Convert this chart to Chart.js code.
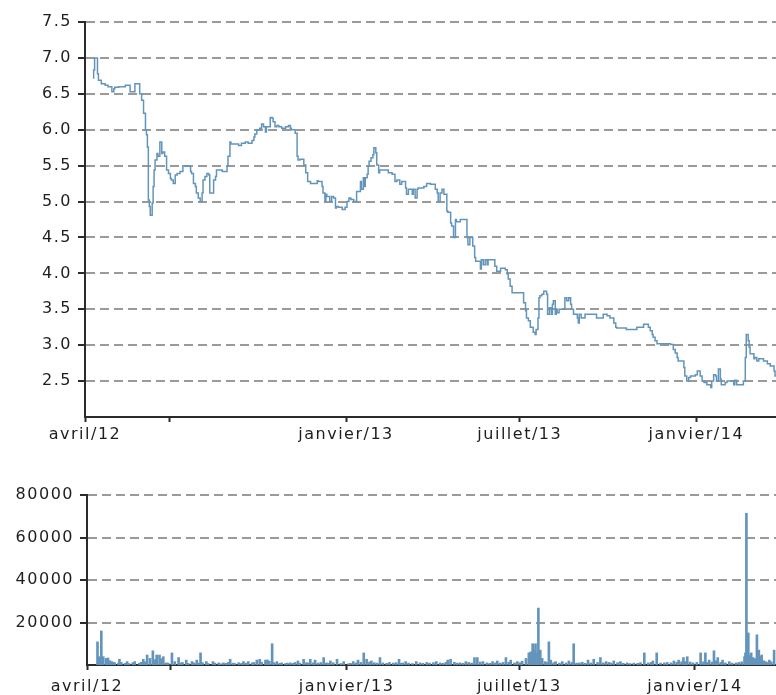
<!DOCTYPE html>
<html lang="fr">
<head>
    <meta charset="UTF-8">
    <title>Cours et volume</title>
    <script src="https://cdn.jsdelivr.net/npm/chart.js"></script>
    <style>
        html, body {
            margin: 0;
            padding: 0;
            background: #fff;
        }
        .wrap {
            position: relative;
            width: 776px;
            height: 695px;
            overflow: hidden;
        }
        #priceChart {
            position: absolute;
            left: 0;
            top: 0;
        }
        #volChart {
            position: absolute;
            left: 0;
            top: 470px;
        }
    </style>
</head>
<body>
    <div class="wrap">
        <canvas id="priceChart" width="776" height="445"></canvas>
        <canvas id="volChart" width="776" height="225"></canvas>
    </div>

    <script>
        // Cours (clôture)
        const priceDates = [
            '2012-04-13', '2012-04-14', '2012-04-17', '2012-04-18', '2012-04-21', '2012-04-25', '2012-04-28',
            '2012-05-02', '2012-05-04', '2012-05-05', '2012-05-09', '2012-05-16', '2012-05-21', '2012-05-26', '2012-05-28', '2012-05-31',
            '2012-06-02', '2012-06-04', '2012-06-06', '2012-06-07', '2012-06-08', '2012-06-09', '2012-06-10', '2012-06-11', '2012-06-13',
            '2012-06-14', '2012-06-15', '2012-06-16', '2012-06-18', '2012-06-19', '2012-06-21', '2012-06-23', '2012-06-24', '2012-06-26',
            '2012-06-28', '2012-06-30',
            '2012-07-02', '2012-07-03', '2012-07-05', '2012-07-07', '2012-07-09', '2012-07-12', '2012-07-15', '2012-07-19', '2012-07-23',
            '2012-07-24', '2012-07-26', '2012-07-28', '2012-07-29', '2012-07-31',
            '2012-08-02', '2012-08-04', '2012-08-05', '2012-08-07', '2012-08-09', '2012-08-11', '2012-08-12', '2012-08-14', '2012-08-16',
            '2012-08-18', '2012-08-19', '2012-08-21', '2012-08-25', '2012-08-30', '2012-08-31',
            '2012-09-02', '2012-09-03', '2012-09-06', '2012-09-11', '2012-09-14', '2012-09-18', '2012-09-21', '2012-09-25', '2012-09-27',
            '2012-09-28', '2012-09-30',
            '2012-10-03', '2012-10-05', '2012-10-07', '2012-10-09', '2012-10-10', '2012-10-14', '2012-10-16', '2012-10-17', '2012-10-19',
            '2012-10-21', '2012-10-23', '2012-10-26', '2012-10-30',
            '2012-11-02', '2012-11-04', '2012-11-05', '2012-11-09', '2012-11-11', '2012-11-12', '2012-11-14', '2012-11-18', '2012-11-20',
            '2012-11-22', '2012-11-25', '2012-11-26',
            '2012-12-02', '2012-12-03', '2012-12-07', '2012-12-08', '2012-12-10', '2012-12-11', '2012-12-12', '2012-12-15', '2012-12-17',
            '2012-12-19', '2012-12-21', '2012-12-22', '2012-12-24', '2012-12-28', '2012-12-31',
            '2013-01-02', '2013-01-04', '2013-01-06', '2013-01-09', '2013-01-12', '2013-01-13', '2013-01-16', '2013-01-17', '2013-01-19',
            '2013-01-20', '2013-01-21', '2013-01-23', '2013-01-24', '2013-01-25', '2013-01-27', '2013-01-29', '2013-01-30',
            '2013-02-01', '2013-02-02', '2013-02-04', '2013-02-05', '2013-02-06', '2013-02-14', '2013-02-18', '2013-02-21', '2013-02-23',
            '2013-02-26', '2013-02-28',
            '2013-03-04', '2013-03-05', '2013-03-07', '2013-03-11', '2013-03-12', '2013-03-14', '2013-03-16', '2013-03-17', '2013-03-23',
            '2013-03-26', '2013-03-30',
            '2013-04-04', '2013-04-06', '2013-04-07', '2013-04-09', '2013-04-11', '2013-04-13', '2013-04-16', '2013-04-17', '2013-04-20',
            '2013-04-21', '2013-04-23', '2013-04-25', '2013-04-26', '2013-04-30',
            '2013-05-03', '2013-05-07', '2013-05-08', '2013-05-10', '2013-05-13', '2013-05-15', '2013-05-16', '2013-05-21', '2013-05-22',
            '2013-05-24', '2013-05-26', '2013-05-28', '2013-05-29',
            '2013-06-02', '2013-06-05', '2013-06-07', '2013-06-11', '2013-06-16', '2013-06-18', '2013-06-19', '2013-06-21', '2013-06-23',
            '2013-06-24',
            '2013-07-05', '2013-07-07', '2013-07-08', '2013-07-10', '2013-07-12', '2013-07-15', '2013-07-17', '2013-07-18', '2013-07-20',
            '2013-07-21', '2013-07-22', '2013-07-24', '2013-07-26', '2013-07-29', '2013-07-30',
            '2013-08-01', '2013-08-03', '2013-08-04', '2013-08-05', '2013-08-07', '2013-08-08', '2013-08-09', '2013-08-11', '2013-08-14',
            '2013-08-17', '2013-08-19', '2013-08-21', '2013-08-23', '2013-08-24', '2013-08-26', '2013-08-30', '2013-08-31',
            '2013-09-01', '2013-09-03', '2013-09-07', '2013-09-09', '2013-09-19', '2013-09-26', '2013-09-30',
            '2013-10-03', '2013-10-07', '2013-10-09', '2013-10-10', '2013-10-20', '2013-10-26', '2013-10-31',
            '2013-11-07', '2013-11-09', '2013-11-12', '2013-11-14', '2013-11-16', '2013-11-17', '2013-11-19', '2013-11-21', '2013-11-22',
            '2013-12-05', '2013-12-08', '2013-12-10', '2013-12-12', '2013-12-13', '2013-12-19', '2013-12-20', '2013-12-22', '2013-12-24',
            '2013-12-26', '2013-12-31',
            '2014-01-02', '2014-01-05', '2014-01-07', '2014-01-09', '2014-01-12', '2014-01-16', '2014-01-17', '2014-01-19', '2014-01-21',
            '2014-01-22', '2014-01-24', '2014-01-26', '2014-01-27', '2014-01-31',
            '2014-02-02', '2014-02-09', '2014-02-10', '2014-02-12', '2014-02-16', '2014-02-19', '2014-02-21', '2014-02-22', '2014-02-24',
            '2014-02-25', '2014-02-26',
            '2014-03-02', '2014-03-03', '2014-03-05', '2014-03-07', '2014-03-12', '2014-03-16', '2014-03-19', '2014-03-23', '2014-03-24',
            '2014-03-25'
        ];
        const priceValues = [
            6.71, 6.83, 7.00, 6.78, 6.69, 6.64, 6.62,
            6.60, 6.53, 6.57, 6.59, 6.60, 6.62, 6.53, 6.64, 6.64,
            6.50, 6.41, 6.23, 6.00, 5.93, 5.76, 5.02, 4.93, 4.81,
            4.98, 5.21, 5.44, 5.58, 5.67, 5.63, 5.83, 5.67, 5.69,
            5.63, 5.44,
            5.39, 5.32, 5.30, 5.25, 5.37, 5.39, 5.42, 5.50, 5.49,
            5.42, 5.39, 5.25, 5.21, 5.12,
            5.05, 5.00, 5.12, 5.30, 5.35, 5.39, 5.37, 5.12, 5.12,
            5.30, 5.35, 5.44, 5.44, 5.42, 5.49,
            5.63, 5.83, 5.80, 5.80, 5.78, 5.81, 5.83, 5.81, 5.85,
            5.90, 5.94,
            6.00, 6.02, 6.08, 6.04, 5.97, 6.04, 6.17, 6.16, 6.11,
            6.04, 6.06, 6.04, 6.02,
            6.04, 6.06, 6.02, 6.00, 5.95, 5.63, 5.58, 5.59, 5.51,
            5.40, 5.28, 5.25,
            5.25, 5.29, 5.28, 5.21, 5.12, 5.00, 5.10, 5.07, 5.00,
            5.07, 5.05, 4.91, 4.93, 4.92, 4.89,
            4.92, 5.00, 5.05, 5.03, 5.00, 5.14, 5.14, 5.28, 5.17,
            5.33, 5.21, 5.33, 5.38, 5.49, 5.56, 5.61, 5.65,
            5.75, 5.68, 5.51, 5.40, 5.44, 5.44, 5.40, 5.38, 5.28,
            5.30, 5.24,
            5.28, 5.19, 5.10, 5.17, 5.10, 5.17, 5.05, 5.17, 5.19,
            5.21, 5.25,
            5.24, 5.17, 5.12, 5.00, 5.12, 5.17, 5.10, 4.87, 4.85,
            4.70, 4.66, 4.50, 4.75, 4.72,
            4.75, 4.75, 4.50, 4.40, 4.50, 4.38, 4.22, 4.17, 4.06,
            4.19, 4.12, 4.19, 4.12,
            4.19, 4.19, 4.10, 4.03, 4.07, 4.05, 3.99, 3.92, 3.82,
            3.73,
            3.73, 3.59, 3.48, 3.38, 3.34, 3.25, 3.18, 3.15, 3.22,
            3.38, 3.66, 3.69, 3.71, 3.75, 3.71,
            3.43, 3.52, 3.43, 3.57, 3.62, 3.43, 3.50, 3.45, 3.50,
            3.50, 3.66, 3.62, 3.66, 3.57, 3.50, 3.43, 3.38,
            3.31, 3.43, 3.38, 3.43, 3.43, 3.38, 3.43,
            3.41, 3.38, 3.31, 3.25, 3.24, 3.22, 3.22,
            3.25, 3.29, 3.29, 3.25, 3.20, 3.15, 3.11, 3.06, 3.02,
            3.02, 3.01, 2.94, 2.89, 2.83, 2.78, 2.69, 2.57, 2.50,
            2.55, 2.57,
            2.59, 2.64, 2.57, 2.50, 2.48, 2.45, 2.41, 2.50, 2.59,
            2.57, 2.50, 2.67, 2.53, 2.45,
            2.48, 2.50, 2.45, 2.51, 2.45, 2.45, 2.50, 2.83, 3.15,
            3.06, 2.97,
            2.88, 2.81, 2.83, 2.78, 2.81, 2.78, 2.74, 2.71, 2.64,
            2.57
        ];

        // Volume échangé
        const volumeDates = [
            '2012-04-15', '2012-04-17', '2012-04-19', '2012-04-21', '2012-04-24', '2012-04-26', '2012-04-28', '2012-04-30',
            '2012-05-02', '2012-05-03', '2012-05-07', '2012-05-08', '2012-05-10', '2012-05-14', '2012-05-16', '2012-05-18',
            '2012-05-22', '2012-05-24', '2012-05-29', '2012-05-31',
            '2012-06-02', '2012-06-04', '2012-06-06', '2012-06-09', '2012-06-12', '2012-06-14', '2012-06-16', '2012-06-19',
            '2012-06-21', '2012-06-23', '2012-06-26', '2012-06-28',
            '2012-07-02', '2012-07-05', '2012-07-09', '2012-07-11', '2012-07-13', '2012-07-17', '2012-07-19', '2012-07-23',
            '2012-07-25', '2012-07-28', '2012-07-30',
            '2012-08-01', '2012-08-03', '2012-08-07', '2012-08-09', '2012-08-14', '2012-08-16', '2012-08-20', '2012-08-22',
            '2012-08-25', '2012-08-28', '2012-08-30',
            '2012-09-01', '2012-09-04', '2012-09-06', '2012-09-10', '2012-09-13', '2012-09-15', '2012-09-18', '2012-09-20',
            '2012-09-24', '2012-09-26', '2012-09-29',
            '2012-10-02', '2012-10-04', '2012-10-08', '2012-10-10', '2012-10-12', '2012-10-15', '2012-10-17', '2012-10-20',
            '2012-10-23', '2012-10-25', '2012-10-29', '2012-10-31',
            '2012-11-03', '2012-11-06', '2012-11-08', '2012-11-11', '2012-11-13', '2012-11-17', '2012-11-20', '2012-11-22',
            '2012-11-24', '2012-11-27', '2012-11-29',
            '2012-12-02', '2012-12-05', '2012-12-08', '2012-12-11', '2012-12-13', '2012-12-15', '2012-12-18', '2012-12-22',
            '2012-12-26', '2012-12-29',
            '2013-01-03', '2013-01-05', '2013-01-08', '2013-01-11', '2013-01-13', '2013-01-16', '2013-01-19', '2013-01-22',
            '2013-01-25', '2013-01-27', '2013-01-30',
            '2013-02-02', '2013-02-05', '2013-02-08', '2013-02-12', '2013-02-15', '2013-02-19', '2013-02-22', '2013-02-25',
            '2013-02-27',
            '2013-03-01', '2013-03-04', '2013-03-07', '2013-03-11', '2013-03-15', '2013-03-19', '2013-03-22', '2013-03-26',
            '2013-03-29',
            '2013-04-02', '2013-04-05', '2013-04-09', '2013-04-12', '2013-04-15', '2013-04-17', '2013-04-20', '2013-04-24',
            '2013-04-27', '2013-04-30',
            '2013-05-03', '2013-05-06', '2013-05-09', '2013-05-12', '2013-05-15', '2013-05-18', '2013-05-21', '2013-05-24',
            '2013-05-28', '2013-05-31',
            '2013-06-03', '2013-06-06', '2013-06-08', '2013-06-11', '2013-06-14', '2013-06-17', '2013-06-20', '2013-06-22',
            '2013-06-26', '2013-06-29',
            '2013-07-02', '2013-07-04', '2013-07-08', '2013-07-11', '2013-07-13', '2013-07-15', '2013-07-17', '2013-07-18',
            '2013-07-20', '2013-07-21', '2013-07-23', '2013-07-25', '2013-07-28', '2013-07-30',
            '2013-08-01', '2013-08-03', '2013-08-06', '2013-08-08', '2013-08-12', '2013-08-15', '2013-08-19', '2013-08-22',
            '2013-08-25', '2013-08-27', '2013-08-30',
            '2013-09-02', '2013-09-05', '2013-09-08', '2013-09-11', '2013-09-14', '2013-09-17', '2013-09-21', '2013-09-24',
            '2013-09-27', '2013-09-30',
            '2013-10-03', '2013-10-05', '2013-10-08', '2013-10-12', '2013-10-15', '2013-10-18', '2013-10-22', '2013-10-25',
            '2013-10-29',
            '2013-11-02', '2013-11-05', '2013-11-09', '2013-11-13', '2013-11-16', '2013-11-18', '2013-11-22', '2013-11-26',
            '2013-11-30',
            '2013-12-03', '2013-12-07', '2013-12-10', '2013-12-13', '2013-12-15', '2013-12-18', '2013-12-20', '2013-12-22',
            '2013-12-24', '2013-12-27', '2013-12-30',
            '2014-01-03', '2014-01-07', '2014-01-10', '2014-01-12', '2014-01-14', '2014-01-16', '2014-01-19', '2014-01-21',
            '2014-01-23', '2014-01-25', '2014-01-28', '2014-01-30',
            '2014-02-02', '2014-02-06', '2014-02-09', '2014-02-13', '2014-02-16', '2014-02-19', '2014-02-22', '2014-02-23',
            '2014-02-24', '2014-02-25', '2014-02-26', '2014-02-28',
            '2014-03-01', '2014-03-03', '2014-03-05', '2014-03-07', '2014-03-09', '2014-03-10', '2014-03-12', '2014-03-14',
            '2014-03-16', '2014-03-18', '2014-03-20', '2014-03-22', '2014-03-25'
        ];
        const volumeValues = [
            10900, 3900, 16000, 3900, 3100, 3300, 2000, 1600,
            1200, 1000, 900, 2700, 1200, 800, 1600, 700,
            1100, 1600, 900, 1300,
            2700, 1500, 4700, 3100, 6700, 2500, 4700, 4700,
            3000, 3900, 1000, 900,
            5700, 1600, 3500, 900, 1200, 2300, 800, 1600,
            1000, 2300, 900,
            5700, 1100, 1600, 700, 1600, 900, 1000, 600,
            1000, 800, 1200,
            2700, 900, 700, 1100, 800, 1600, 900, 1600,
            1000, 1200, 2300,
            2700, 1300, 2300, 2400, 1800, 10000, 1100, 1600,
            800, 1000, 700, 900,
            1000, 800, 1200, 1900, 900, 2700, 1100, 900,
            2700, 1000, 2300,
            900, 1200, 3500, 1000, 800, 1900, 1100, 2700,
            700, 1600,
            600, 800, 1600, 1000, 2300, 1200, 5700, 2700,
            1400, 1900, 1100,
            900, 3500, 1000, 800, 1200, 900, 1100, 2700,
            800,
            1000, 1600, 900, 700, 1600, 1000, 800, 1200,
            900,
            1100, 1600, 1000, 800, 1200, 2300, 2700, 1300,
            900, 1000,
            800, 1600, 1200, 900, 3500, 3500, 1400, 1600,
            1000, 800,
            1600, 1000, 1900, 900, 1200, 3500, 1300, 2300,
            1000, 1600,
            1100, 1800, 3100, 5700, 6200, 10000, 7000, 10000,
            5700, 26800, 7000, 3100, 1600, 1200,
            10900, 2300, 1100, 1600, 900, 1600, 1000, 1900,
            1200, 10000, 900,
            1000, 1300, 800, 2300, 1000, 2700, 1200, 3500,
            1000, 1600,
            1200, 900, 1900, 1100, 1600, 800, 1000, 700,
            900,
            800, 1100, 5700, 1000, 1200, 1900, 5700, 900,
            1000,
            1200, 1000, 1900, 1300, 2300, 1500, 3500, 1600,
            3900, 1400, 1000,
            1200, 5700, 1500, 5700, 1200, 2300, 1400, 6700,
            2000, 3500, 1200, 2300,
            1000, 1600, 900, 1000, 1200, 1500, 3900, 5700,
            71400, 6000, 15100, 4500,
            5700, 3500, 3000, 14200, 7000, 4000, 4700, 2000,
            1600, 1200, 2300, 1500, 7000
        ];

        // Axes
        const tickDates = ['2012-04-04', '2012-07-01', '2013-01-01', '2013-07-01', '2014-01-01'];
        const tickLabels = ['avril/12', '', 'janvier/13', 'juillet/13', 'janvier/14'];
        const priceTicks = [2.5, 3.0, 3.5, 4.0, 4.5, 5.0, 5.5, 6.0, 6.5, 7.0, 7.5];
        const volumeTicks = [20000, 40000, 60000, 80000];

        const axisColor = '#2b2b2b';
        const gridColor = '#9a9a9a';
        const seriesColor = '#6395bc';
        const labelFont = { family: 'DejaVu Sans', size: 16 };

        function toDay(s) {
            const p = s.split('-').map(Number);
            return Date.UTC(p[0], p[1] - 1, p[2]) / 86400000;
        }

        // espacement des lettres comme sur l'original
        const spacing = {
            id: 'spacing',
            beforeUpdate(chart) { chart.ctx.letterSpacing = '1.5px'; },
            beforeDraw(chart) { chart.ctx.letterSpacing = '1.5px'; }
        };

        function xScale(maxDate, height, pad) {
            return {
                type: 'linear',
                min: toDay(tickDates[0]),
                max: toDay(maxDate),
                offset: false,
                afterBuildTicks: s => { s.ticks = tickDates.map(d => ({ value: toDay(d) })); },
                afterFit: s => { s.height = height; },
                ticks: {
                    autoSkip: false,
                    maxRotation: 0,
                    padding: pad,
                    color: '#1e1e1e',
                    font: labelFont,
                    callback: (v, i) => tickLabels[i]
                },
                grid: {
                    drawOnChartArea: false,
                    offset: false,
                    tickLength: 5,
                    tickWidth: 2,
                    tickColor: axisColor
                },
                border: { color: axisColor, width: 2 }
            };
        }

        function yScale(min, max, ticks, width, fmt) {
            return {
                min: min,
                max: max,
                afterBuildTicks: s => { s.ticks = ticks.map(v => ({ value: v })); },
                afterFit: s => { s.width = width; },
                ticks: {
                    padding: 6,
                    color: '#1e1e1e',
                    font: labelFont,
                    callback: fmt
                },
                grid: {
                    color: gridColor,
                    lineWidth: 2,
                    tickLength: 7,
                    tickWidth: 2,
                    tickColor: axisColor
                },
                border: { color: axisColor, width: 2, dash: [9, 5] }
            };
        }

        const common = {
            responsive: false,
            animation: false,
            events: [],
            plugins: { legend: { display: false }, tooltip: { enabled: false } }
        };

        new Chart(document.getElementById('priceChart'), {
            type: 'line',
            data: {
                datasets: [{
                    data: priceDates.map((d, i) => ({ x: toDay(d), y: priceValues[i] })),
                    borderColor: seriesColor,
                    borderWidth: 1.5,
                    pointRadius: 0,
                    stepped: 'after',
                    fill: false
                }]
            },
            options: {
                ...common,
                layout: { padding: { top: 22, right: 0, bottom: 0, left: 0 } },
                scales: {
                    x: xScale('2014-03-25', 28, 3),
                    y: yScale(2, 7.5, priceTicks, 85, v => v.toFixed(1))
                }
            },
            plugins: [spacing]
        });

        new Chart(document.getElementById('volChart'), {
            type: 'bar',
            data: {
                datasets: [{
                    data: volumeDates.map((d, i) => ({ x: toDay(d), y: volumeValues[i] })),
                    backgroundColor: seriesColor,
                    borderWidth: 0,
                    barThickness: 2
                }]
            },
            options: {
                ...common,
                layout: { padding: { top: 25, right: 0, bottom: 0, left: 0 } },
                scales: {
                    x: xScale('2014-03-27', 30, 7),
                    y: yScale(0, 80000, volumeTicks, 87, v => String(v))
                }
            },
            plugins: [spacing]
        });
    </script>
</body>
</html>
